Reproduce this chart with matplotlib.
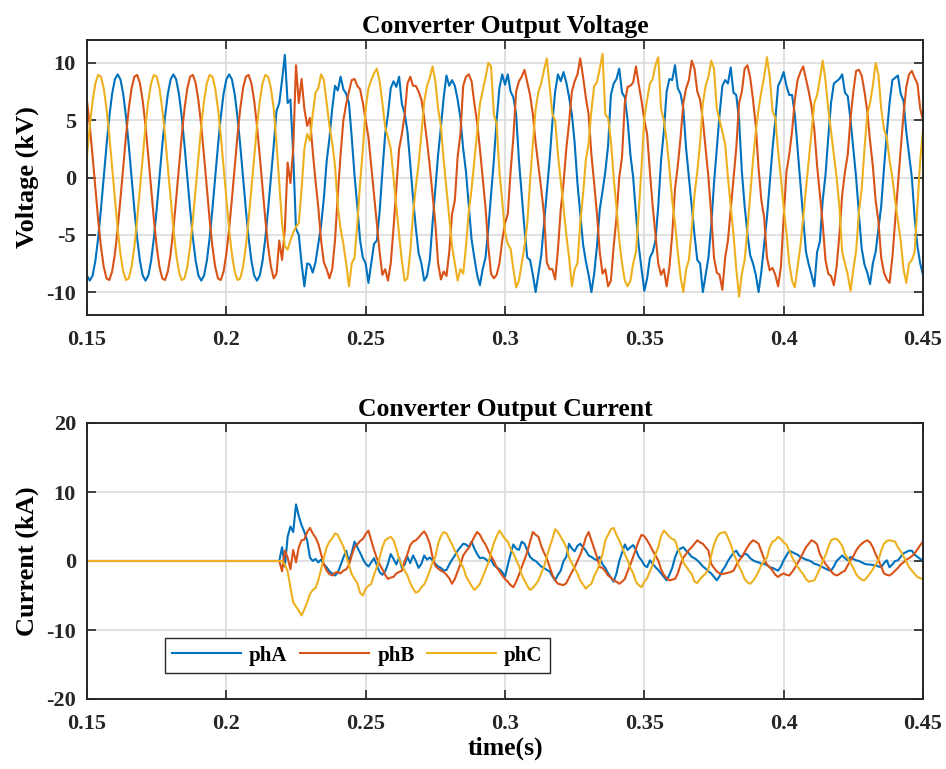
import numpy as np
import matplotlib
matplotlib.use("Agg")
import matplotlib.pyplot as plt

# sampling grid of the simulation output (1 ms)
t = np.linspace(0.15, 0.45, 301)

# converter output voltage (kV)
va = [-8.56, -9, -8.56, -7.28, -5.29, -2.78, 0, 2.78, 5.29, 7.28, 8.56, 9, 8.56, 7.28, 5.29, 2.78, 0, -2.78, -5.29, -7.28,
      -8.56, -9, -8.56, -7.28, -5.29, -2.78, 0, 2.78, 5.29, 7.28, 8.56, 9, 8.56, 7.28, 5.29, 2.78, 0, -2.78, -5.29, -7.28,
      -8.56, -9, -8.56, -7.28, -5.29, -2.78, 0, 2.78, 5.29, 7.28, 8.56, 9, 8.56, 7.28, 5.29, 2.78, 0, -2.78, -5.29, -7.28,
      -8.56, -9, -8.56, -7.28, -5.29, -2.78, 0, 2.78,
      5.8, 6.5, 8.5, 10.7, 6.5, 6.8, 2.0, -4.5, -5.0, -7.5, -9.5, -7.5, -7.6, -8.3, -7.4, -5.8, -4.2, -1.8, 1.4, 3.4,
      6.0, 8.0, 7.6, 8.8, 7.7, 7.3, 6.5, 3.5, 0.2, -2.5, -5.5, -7.0,
      -7.5, -9.2, -7.5, -5.8, -5.5, -3.0, 0.5, 3.8, 5.5, 7.8, 8.4, 7.9, 8.8, 6.4, 5.6, 4.0, 1.2, -1.8, -4.4, -6.6,
      -7.5, -9.0, -8.6, -7.2, -4.0, -1.0, 2.0, 4.4, 7.0, 8.9, 8.0, 8.5, 8.0, 6.8, 5.2, 2.5, 0.5, -2.5, -5.4, -7.0,
      -8.5, -9.4, -8.0, -7.0, -4.5, -1.5, 1.5, 5.0, 7.8, 9.0, 8.1,
      9.0, 7.5, 7.0, 5.5, 1.5, -1.5, -4.5, -7.0, -7.2, -8.5, -10.0, -8.4, -6.8, -4.0, -1.2, 1.5, 4.8, 7.5, 9.0, 8.4,
      9.2, 8.3, 7.0, 5.5, 3.0, -0.5, -3.2, -5.8, -7.3, -8.5, -10.0, -8.4, -6.0, -2.8, -1.2, 0.5, 2.8, 7.2, 8.2, 8.6,
      9.5, 7.4, 7.0, 5.0, 2.0, 0.0, -3.2, -6.0, -8.0, -9.9,
      -8.8, -7.0, -6.5, -5.5, -2.5, 1.5, 4.0, 7.5, 8.6, 8.5, 9.8, 7.8, 7.3, 6.0, 2.5, 0.0, -2.6, -5.0, -7.2, -7.5,
      -10.0, -8.5, -7.0, -4.2, -0.5, 2.5, 5.5, 8.0, 8.5, 8.2, 9.6, 7.4, 7.2, 5.0, 0.5, -2.5, -4.9, -6.8, -7.5, -8.5,
      -10.0, -8.2, -5.8, -3.5, -0.5, 2.5, 5.0, 8.0, 8.5, 9.2,
      8.0, 7.2, 7.2, 5.5, 2.5, -0.5, -3.5, -6.5, -7.6, -8.5, -9.5, -6.5, -5.6, -2.0, 0.2, 3.5, 6.5, 8.2, 8.4, 8.6,
      9.0, 7.4, 7.1, 5.0, 2.5, 0.0, -3.2, -6.2, -7.6, -8.3, -9.3, -7.5, -6.5, -4.5, -2.5, 0.8, 3.8, 6.5, 8.5, 8.7,
      8.9, 7.3, 6.7, 4.0, 2.0, 0.0, -3.5, -6.0, -7.5, -8.5]

vb = [6.69, 4.5, 1.87, -0.94, -3.66, -6.02, -7.79, -8.80, -8.95, -8.22, -6.69, -4.5, -1.87, 0.94, 3.66, 6.02, 7.79, 8.80, 8.95, 8.22,
      6.69, 4.5, 1.87, -0.94, -3.66, -6.02, -7.79, -8.80, -8.95, -8.22, -6.69, -4.5, -1.87, 0.94, 3.66, 6.02, 7.79, 8.80, 8.95, 8.22,
      6.69, 4.5, 1.87, -0.94, -3.66, -6.02, -7.79, -8.80, -8.95, -8.22, -6.69, -4.5, -1.87, 0.94, 3.66, 6.02, 7.79, 8.80, 8.95, 8.22,
      6.69, 4.5, 1.87, -0.94, -3.66, -6.02, -7.79, -8.80,
      -8.4, -5.5, -7.2, -4.5, 1.3, -0.5, 2.5, 9.8, 6.5, 8.6, 6.0, 4.5, 5.2, 2.3, -0.3, -2.6, -5.5, -7.4, -8.0, -8.8,
      -8.0, -5.5, -1.5, 2.0, 5.0, 6.4, 7.5, 8.5, 8.6, 8.0, 7.7, 6.5,
      5.0, 3.5, 1.0, -1.5, -4.0, -6.5, -8.5, -8.0, -9.0, -7.5, -4.4, -1.0, 2.5, 3.8, 5.5, 8.2, 8.8, 8.0, 8.0, 7.5,
      6.8, 5.2, 3.2, 1.0, -1.5, -4.0, -7.5, -8.9, -8.2, -8.6, -6.5, -3.2, -2.0, 1.8, 3.8, 8.0, 8.8, 9.0, 8.4, 6.5,
      4.8, 2.5, 0.0, -2.6, -6.0, -8.4, -8.8, -8.5, -7.5, -5.5, -4.0,
      -3.2, 0.5, 3.5, 7.5, 8.4, 8.8, 9.4, 8.3, 7.2, 5.5, 3.0, 1.0, -1.0, -3.2, -7.4, -8.0, -8.0, -8.9, -6.3, -2.8,
      -0.5, 2.5, 4.8, 7.5, 8.4, 9.0, 10.4, 8.8, 7.0, 5.5, 2.0, -0.5, -3.2, -6.5, -8.4, -8.0, -9.5, -9.0, -6.0, -3.5,
      0.0, 1.8, 6.5, 7.9, 8.0, 8.3, 9.7, 8.1, 6.7, 5.0,
      3.8, 0.5, -2.5, -5.0, -7.5, -8.5, -8.0, -9.5, -7.8, -5.0, -1.0, 1.0, 3.5, 6.5, 7.8, 8.5, 10.2, 9.5, 7.5, 6.8,
      5.0, 2.5, 0.0, -3.2, -7.0, -8.3, -8.5, -9.8, -7.0, -5.5, -2.8, 0.0, 2.6, 6.5, 7.5, 9.5, 9.8, 8.7, 6.8, 4.5,
      0.8, -2.0, -3.5, -7.0, -8.1, -7.9, -8.5, -9.5, -7.8, -3.5,
      0.5, 2.0, 4.0, 6.8, 8.5, 9.2, 9.7, 8.6, 7.5, 6.2, 4.2, 1.0, -1.5, -4.0, -7.2, -8.4, -8.6, -9.4, -7.8, -5.0,
      -1.5, 0.5, 2.0, 5.2, 7.5, 9.3, 9.4, 8.9, 7.5, 5.8, 3.2, 1.0, -2.0, -3.8, -7.0, -8.3, -8.9, -9.2, -7.0, -3.8,
      -0.5, 2.5, 5.5, 7.9, 9.0, 9.3, 8.7, 8.2, 6.0, 5.0]

vc = [1.87, 4.5, 6.69, 8.22, 8.95, 8.80, 7.79, 6.02, 3.66, 0.94, -1.87, -4.5, -6.69, -8.22, -8.95, -8.80, -7.79, -6.02, -3.66, -0.94,
      1.87, 4.5, 6.69, 8.22, 8.95, 8.80, 7.79, 6.02, 3.66, 0.94, -1.87, -4.5, -6.69, -8.22, -8.95, -8.80, -7.79, -6.02, -3.66, -0.94,
      1.87, 4.5, 6.69, 8.22, 8.95, 8.80, 7.79, 6.02, 3.66, 0.94, -1.87, -4.5, -6.69, -8.22, -8.95, -8.80, -7.79, -6.02, -3.66, -0.94,
      1.87, 4.5, 6.69, 8.22, 8.95, 8.80, 7.79, 6.02,
      3.0, -0.5, -4.0, -6.0, -6.3, -5.5, -4.8, -4.3, -4.0, -1.0, 2.5, 3.8, 3.2, 5.5, 7.4, 7.8, 9.0, 8.5, 6.5, 4.5,
      3.0, 1.0, -2.5, -4.5, -5.8, -7.5, -9.5, -7.5, -7.0, -4.0, -0.5, 2.5,
      6.0, 7.8, 8.5, 9.1, 9.5, 8.4, 6.5, 4.4, 3.5, 2.5, 0.0, -2.4, -5.0, -7.3, -9.0, -8.8, -6.5, -3.2, -0.8, 1.2,
      3.8, 6.6, 8.0, 8.7, 9.7, 8.4, 6.0, 4.5, 1.5, -1.0, -3.5, -6.0, -7.5, -9.0, -8.0, -8.4, -6.0, -3.0, -1.0, 1.5,
      4.0, 6.4, 7.6, 8.7, 10.0, 9.7, 5.5, 4.7, 0.5, -2.0, -4.8,
      -5.8, -6.2, -8.0, -9.6, -9.0, -7.5, -6.0, -4.0, -0.3, 3.0, 6.0, 7.5, 8.2, 9.4, 10.4, 8.0, 5.5, 5.0, 2.0, -0.3,
      -2.6, -5.0, -7.0, -9.5, -8.0, -7.5, -4.0, -1.5, 1.5, 3.0, 5.8, 8.0, 8.3, 9.5, 10.8, 5.5, 5.2, 3.2, 0.0, -2.6,
      -5.5, -7.5, -9.0, -9.5, -9.0, -7.5, -6.5, -3.0, 0.9, 5.2,
      6.8, 8.2, 8.6, 9.8, 10.5, 6.0, 5.0, 3.2, 0.8, -2.0, -4.0, -6.5, -8.7, -10.0, -8.0, -7.2, -4.5, -1.5, 0.5, 3.0,
      6.5, 8.0, 8.8, 10.2, 9.5, 6.0, 5.0, 4.0, 2.9, 0.0, -2.5, -5.0, -8.0, -10.4, -8.4, -7.2, -4.5, -1.5, 1.5, 4.0,
      6.0, 7.5, 8.8, 10.5, 8.8, 5.8, 5.2, 2.3, 0.0, -2.6,
      -4.8, -7.5, -9.0, -9.6, -7.8, -6.0, -3.5, -1.0, 1.5, 4.0, 6.5, 7.2, 8.6, 10.2, 8.5, 6.0, 4.0, 2.0, 0.0, -2.5,
      -6.5, -7.5, -8.5, -9.9, -8.0, -6.4, -3.0, -1.0, 2.5, 5.5, 6.5, 8.0, 10.0, 9.0, 6.0, 4.2, 3.5, 1.5, 0.0, -2.0,
      -3.8, -5.5, -8.0, -9.2, -7.5, -7.2, -6.5, -2.5, 1.5, 4.2]

# converter output current (kA), zero until the converter starts at ~0.22 s
ia = [0.0] * 70 + [
      2.0, -0.8, 3.5, 5.0, 4.2, 8.2, 6.5, 5.2, 4.2, 3.0, 0.5, 0.0, 0.3, -0.2, 0.2, -0.5, -0.9, -1.5, -1.8, -2.1,
      -1.7, -0.6, 0.5, 1.5, -0.1, 1.2, 2.8, 2.0, 1.2, 0.3, -0.4, -0.8, -0.2, 0.4, -0.6, -1.6, -2.0, -1.5, -0.4, 1.0,
      0.3, -0.5, 0.5, -1.0, -0.5, 0.6, -0.3, 0.8, 0.0, -1.0, -0.4, 0.8, 0.2, 0.5, 0.1, -0.4, -0.8, -1.0, -1.4, -1.3,
      -0.5, 0.2, 0.8, 1.5, 2.0, 2.5, 2.4, 2.0, 2.8, 1.8, 1.0, 0.4, 0.5, 0.3, -0.1, 0.2, -0.6, -0.9, -1.2, -1.6,
      -2.3, -0.6, 1.0, 2.4, 1.8, 1.6, 2.8, 2.5, 1.5, 0.6, 0.2, 0.0, -0.4, -0.8, -1.0, -1.3, -1.5, -2.2, -2.8, -2.0,
      -1.4, 0.0, 0.6, 2.5, 1.8, 1.4, 2.2, 2.5, 2.0, 1.5, 0.8, 0.6, 0.3, 0.1, 0.6, -0.5, -1.0, -1.8, -2.4, -3.0,
      -1.8, 0.0, 1.2, 2.4, 1.6, 2.0, 2.3, 1.6, 0.6, 0.1, -0.6, -0.9, 0.1, -0.4, -0.9, -1.3, -1.8, -2.3, -2.8, -2.0,
      -1.0, 0.5, 1.5, 1.8, 2.0, 1.5, 1.1, 0.6, 0.4, 0.1, -0.3, -0.8, -1.1, -1.5, -1.8, -2.3, -2.8, -2.2, -1.4, -0.8,
      0.0, 0.6, 1.2, 1.5, 0.8, 0.6, 1.1, 0.9, 0.4, 0.1, -0.1, -0.2, -0.4, -0.4, -0.6, -0.9, -1.0, -1.2, -1.4, -0.8,
      0.1, 0.8, 1.5, 1.3, 1.1, 0.9, 0.6, 0.4, 0.2, 0.1, -0.1, -0.4, -0.5, -0.7, -0.9, -1.1, -1.3, -1.4, -0.8, 0.0,
      0.4, 0.8, 0.4, 0.1, 0.6, 0.3, 0.1, 0.0, -0.2, -0.4, -0.5, -0.5, -0.6, -0.6, -0.8, -0.9, -0.3, 0.1, -0.9, -0.5,
      0.0, 0.1, 0.6, 1.1, 1.3, 1.5, 1.5, 0.9, 0.6, 0.3, 0.1]

ib = [0.0] * 70 + [
      -1.5, 1.5, 0.5, -1.2, 1.6, -0.2, 2.0, 3.0, 3.1, 4.2, 4.8, 4.0, 3.4, 2.5, 1.0, -0.5, -1.4, -1.9, -2.1, -1.7,
      -1.6, -1.8, -1.4, -1.2, -0.6, 0.8, 2.0, 2.4, 2.9, 3.2, 3.9, 4.4, 3.0, 1.6, 0.4, -0.5, -1.2, -2.0, -2.6, -2.4,
      -2.3, -1.8, -1.6, -1.4, 0.0, 1.0, 2.3, 2.8, 3.0, 3.4, 3.9, 4.3, 3.6, 2.5, 0.6, -0.7, -1.1, -1.4, -1.6, -2.0,
      -2.5, -3.3, -2.6, -1.5, -0.5, 0.8, 1.4, 1.9, 2.7, 3.5, 4.2, 3.8, 3.0, 2.4, 1.5, 0.7, 0.0, -0.9, -1.5, -2.1,
      -2.6, -3.0, -3.5, -3.8, -3.0, -2.0, -0.9, 0.2, 1.3, 2.8, 4.2, 3.8, 3.5, 2.2, 1.2, 0.4, -0.8, -2.0, -2.8, -3.3,
      -3.4, -3.5, -3.2, -2.4, -1.6, -0.9, 0.0, 0.9, 2.0, 3.4, 4.2, 3.0, 1.8, 0.6, -0.9, -1.0, -1.5, -2.1, -2.4, -2.8,
      -3.0, -3.3, -3.0, -2.6, -1.5, -0.5, 0.6, 1.8, 2.9, 3.8, 3.6, 3.0, 2.3, 1.5, 0.8, 0.1, -1.2, -2.0, -2.5, -2.8,
      -2.7, -2.6, -1.8, -0.5, 0.5, 1.0, 1.6, 2.0, 2.5, 3.0, 2.7, 2.5, 2.0, 1.5, -0.4, -1.0, -1.5, -1.8, -1.9, -1.8,
      -1.7, -1.6, -1.4, -0.6, 0.1, 0.6, 1.3, 2.0, 2.6, 3.0, 2.8, 2.5, 1.4, 0.3, -0.5, -0.9, -1.4, -2.0, -2.3, -2.0,
      -1.8, -2.0, -2.1, -1.6, -1.0, -0.3, 0.4, 1.2, 2.0, 2.5, 3.0, 2.8, 2.4, 1.0, 0.2, -0.4, -0.9, -1.5, -1.9, -2.1,
      -1.9, -1.6, -1.4, -0.6, 0.1, 0.7, 1.5, 2.1, 2.5, 2.8, 3.0, 2.7, 2.0, 1.0, 0.1, -0.8, -1.8, -2.0, -2.1, -1.8,
      -1.4, -1.0, -0.5, -0.2, 0.2, 0.4, 0.7, 1.1, 1.7, 2.3, 2.8]

ic = [0.0] * 70 + [
      0.0, -0.5, -1.5, -3.8, -6.0, -6.6, -7.2, -7.9, -7.0, -6.0, -4.8, -4.2, -3.9, -2.8, -1.2, 0.5, 2.0, 2.8, 3.3, 4.0,
      3.8, 2.9, 2.1, 0.8, -0.6, -1.9, -2.6, -3.2, -4.6, -5.0, -4.0, -3.6, -3.3, -2.0, -0.9, 0.5, 2.0, 3.0, 3.3, 3.5,
      3.0, 1.8, 0.3, -0.6, -1.4, -2.1, -3.2, -4.0, -4.6, -4.4, -3.8, -3.4, -2.5, -1.4, -0.2, 0.6, 2.5, 3.6, 4.2, 4.0,
      3.2, 2.4, 1.5, 0.8, -0.3, -0.9, -2.2, -2.9, -3.6, -4.2, -3.8, -3.3, -2.3, -1.3, -0.3, 1.2, 2.6, 3.6, 4.4, 3.8,
      3.2, 2.8, 1.8, 1.1, 0.2, -0.7, -2.0, -2.8, -3.6, -4.2, -3.9, -3.4, -2.8, -1.8, -0.8, 0.6, 2.0, 3.2, 4.6, 4.2,
      3.5, 2.8, 2.0, 0.5, -0.3, -1.1, -1.8, -2.8, -3.4, -4.0, -3.6, -3.3, -2.2, -1.4, -0.3, 1.0, 3.0, 3.8, 4.6, 4.8,
      3.8, 3.0, 2.0, 1.0, 0.1, -1.0, -1.8, -3.0, -3.5, -3.8, -3.0, -2.5, -1.5, -0.5, 1.0, 2.0, 3.6, 4.4, 4.0, 3.5,
      3.2, 3.0, 1.8, 1.0, -0.2, -0.8, -1.4, -1.9, -3.0, -3.2, -2.6, -2.2, -1.8, -1.2, 0.8, 2.4, 3.4, 4.0, 4.1, 4.2,
      3.4, 2.4, 1.1, 0.2, -0.8, -1.6, -2.6, -3.1, -3.3, -2.9, -2.3, -1.5, -0.6, 0.0, 0.5, 2.0, 2.8, 3.0, 3.5, 3.2,
      2.7, 2.4, 1.5, 0.6, -0.2, -0.8, -1.4, -1.9, -2.6, -3.0, -2.9, -2.8, -2.0, -1.1, 0.0, 0.8, 2.0, 3.0, 3.2, 3.2,
      2.8, 2.2, 1.0, 0.4, -0.3, -1.0, -1.9, -2.4, -2.7, -2.8, -2.3, -1.8, -1.2, -0.5, 0.1, 1.5, 2.5, 2.9, 3.0, 2.9,
      2.8, 2.0, 1.4, 0.7, -0.1, -0.9, -1.4, -1.9, -2.3, -2.5, -2.6]

phase_names = ["phA", "phB", "phC"]
phase_colors = ["#0072BD", "#D95319", "#EDB120"]
xticks = [0.15, 0.2, 0.25, 0.3, 0.35, 0.4, 0.45]
xticklabels = ["0.15", "0.2", "0.25", "0.3", "0.35", "0.4", "0.45"]
v_ticks = [-10, -5, 0, 5, 10]
i_ticks = [-20, -10, 0, 10, 20]

plt.rcParams["font.family"] = ["Liberation Serif", "DejaVu Serif"]
plt.rcParams["font.weight"] = "bold"
plt.rcParams["axes.unicode_minus"] = False

W, H = 946, 769
fig = plt.figure(figsize=(W / 100, H / 100), dpi=100)
ax1 = fig.add_axes([87 / W, (H - 315) / H, 836 / W, 275 / H])
ax2 = fig.add_axes([87 / W, (H - 699) / H, 836 / W, 276 / H])


def style_axes(ax, yticks, ylim):
    ax.set_xlim(0.15, 0.45)
    ax.set_ylim(*ylim)
    ax.set_xticks(xticks)
    ax.set_xticklabels(xticklabels)
    ax.set_yticks(yticks)
    ax.grid(True, color="#dcdcdc", linewidth=1.2)
    ax.set_axisbelow(True)
    ax.tick_params(direction="in", length=6.5, width=1.2, top=True, right=True,
                   labelsize=16, colors="#262626")
    ax.tick_params(axis="x", pad=11)
    ax.tick_params(axis="y", pad=8)
    for sp in ax.spines.values():
        sp.set_linewidth(1.4)
        sp.set_color("#262626")
    for lab in ax.get_xticklabels() + ax.get_yticklabels():
        lab.set_fontweight("bold")


for y, name, c in zip([va, vb, vc], phase_names, phase_colors):
    ax1.plot(t, y, color=c, linewidth=1.5, label=name)
style_axes(ax1, v_ticks, (-12, 12))
ax1.set_title("Converter Output Voltage", fontsize=18.5, fontweight="bold", pad=5)
ax1.set_ylabel("Voltage (kV)", fontsize=19, fontweight="bold", labelpad=5)

for y, name, c in zip([ia, ib, ic], phase_names, phase_colors):
    ax2.plot(t, y, color=c, linewidth=1.5, label=name)
style_axes(ax2, i_ticks, (-20, 20))
ax2.set_title("Converter Output Current", fontsize=18.5, fontweight="bold", pad=5)
ax2.set_ylabel("Current (kA)", fontsize=19, fontweight="bold", labelpad=5)
ax2.set_xlabel("time(s)", fontsize=18.5, fontweight="bold", labelpad=2)

leg = ax2.legend(loc="lower left", bbox_to_anchor=(0.093, 0.094), ncol=3,
                 prop={"size": 15, "weight": "bold"}, handlelength=3.3,
                 handletextpad=0.4, columnspacing=0.6, borderpad=0.35,
                 borderaxespad=0, fancybox=False, framealpha=1)
leg.get_frame().set_edgecolor("#262626")
leg.get_frame().set_linewidth(1.0)

fig.savefig("out.png", dpi=100)
